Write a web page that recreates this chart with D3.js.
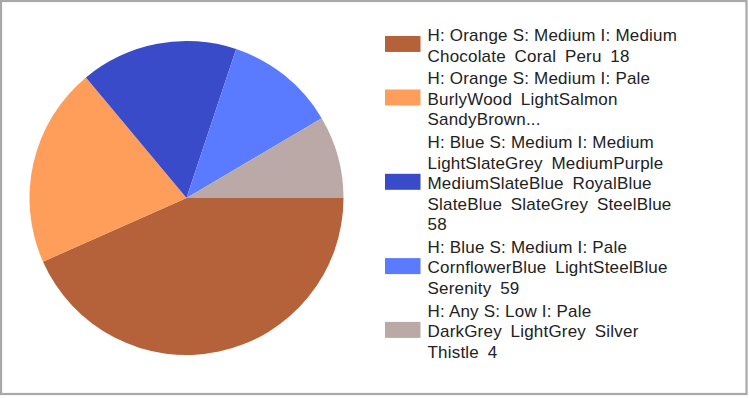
<!DOCTYPE html>
<html>
<head>
<meta charset="utf-8">
<script src="https://cdn.jsdelivr.net/npm/d3@7"></script>
<style>
  html, body { margin: 0; padding: 0; background: #fff; }
  svg { display: block; }
  text { font-family: "Liberation Sans", Arial, sans-serif; }
</style>
</head>
<body>
<svg id="chart" width="749" height="398"></svg>
<script>
// ---- data ----
const categories = [
  ["H: Orange S: Medium I: Medium", "Chocolate Coral Peru 18"],
  ["H: Orange S: Medium I: Pale", "BurlyWood LightSalmon", "SandyBrown..."],
  ["H: Blue S: Medium I: Medium", "LightSlateGrey MediumPurple", "MediumSlateBlue RoyalBlue", "SlateBlue SlateGrey SteelBlue", "58"],
  ["H: Blue S: Medium I: Pale", "CornflowerBlue LightSteelBlue", "Serenity 59"],
  ["H: Any S: Low I: Pale", "DarkGrey LightGrey Silver", "Thistle 4"]
];
const values = [43.4, 20.6, 16.2, 11.4, 8.5];
const colors = ["#B5623A", "#FF9E5A", "#3A4BCA", "#5A7BFF", "#BBA9A7"];

// ---- drawing ----
const svg = d3.select("#chart");

// frame
svg.append("rect")
  .attr("x", 1).attr("y", 1)
  .attr("width", 745.5).attr("height", 393)
  .attr("fill", "#fff")
  .attr("stroke", "#A8A8A8")
  .attr("stroke-width", 2.2);

const cx = 186.5, cy = 198, r = 157;
const pie = d3.pie().sort(null)
  .startAngle(Math.PI / 2)
  .endAngle(Math.PI / 2 + 2 * Math.PI);
const arc = d3.arc().innerRadius(0).outerRadius(r);

const color = d3.scaleOrdinal().domain(d3.range(values.length)).range(colors);

svg.append("g")
  .attr("transform", `translate(${cx},${cy})`)
  .selectAll("path")
  .data(pie(values))
  .join("path")
  .attr("d", arc)
  .attr("fill", (d, i) => color(i));

// legend
const lineH = 20.5, entryGap = 2.3, firstBaseline = 41;
const legend = svg.append("g");
let y = firstBaseline;
categories.forEach((lines, i) => {
  const first = y;
  const last = y + (lines.length - 1) * lineH;
  const mid = (first + last) / 2 - 7.3;
  legend.append("rect")
    .attr("x", 385).attr("y", mid - 8)
    .attr("width", 35.5).attr("height", 16)
    .attr("fill", color(i));
  lines.forEach((t, j) => {
    legend.append("text")
      .attr("x", 427.5)
      .attr("y", y + j * lineH)
      .attr("font-size", 17)
      .attr("letter-spacing", 0.2)
      .attr("word-spacing", j === 0 ? 0 : 3.8)
      .attr("fill", "#222")
      .text(t);
  });
  y = last + lineH + entryGap;
});
</script>
</body>
</html>
